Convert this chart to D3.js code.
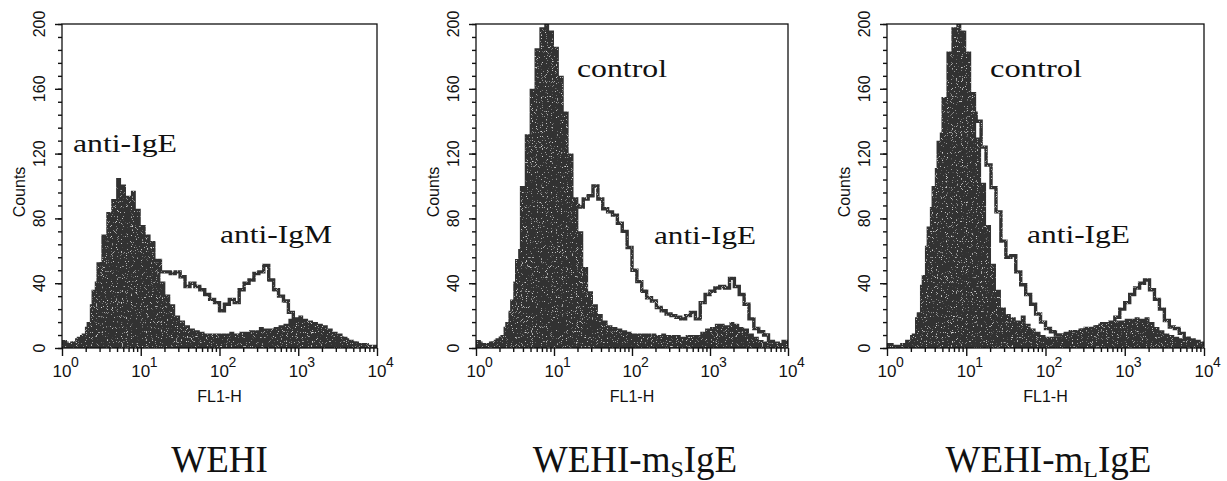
<!DOCTYPE html>
<html>
<head>
<meta charset="utf-8">
<script src="https://cdn.jsdelivr.net/npm/d3@7"></script>
<style>
  body { margin: 0; background: #fff; }
  svg { display: block; }
</style>
</head>
<body>
<svg id="chart" width="1227" height="481"></svg>
<script>
'use strict';

// histogram channels: 16 per decade over 10^0 .. 10^4 (64 bins)
var binsPerDecade = 16;
var decades = [1, 10, 100, 1000, 10000];
var decadeExp = ['0', '1', '2', '3', '4'];
var yTicks = [0, 40, 80, 120, 160, 200];

// WEHI
var wehiIgE = [5,3,4,7,9,16,36,53,70,84, 92,105,101,94,97,86,76,70,66,53,
  41,33,27,20,17,14,12,11,10,9, 9,9,9,9,10,9,10,10,11,11,
  13,12,12,13,14,15,18,19,20,18, 17,16,15,14,12,10,9,7,5,4, 3,2,1,1];
var wehiIgM = [3,2,3,5,7,12,26,40,52,62, 68,72,70,66,64,60,57,55,54,54,
  47,47,46,47,44,38,40,38,36,33, 30,28,23,27,30,28,36,40,42,46,
  47,51,42,36,32,29,22,17,15,13, 12,11,10,9,8,7,6,5,4,3, 2,2,1,1];

// WEHI-mSIgE
var msControl = [5,3,2,4,6,8,16,30,55,100, 132,160,185,198,200,196,186,168,146,120,
  93,72,50,35,27,21,17,14,13,12, 11,10,9,9,9,9,9,8,9,8,
  8,8,7,8,8,8,10,12,13,15, 15,14,16,15,13,12,9,7,5,4, 3,3,2,5];
var msIgE = [3,2,2,3,4,6,12,22,40,60, 75,85,92,95,96,95,94,92,90,89,
  88,87,92,94,100,92,86,84,82,77, 72,62,48,41,35,31,29,25,23,21,
  20,19,18,20,22,18,28,33,35,37, 38,37,43,38,33,27,18,12,10,8, 4,3,2,4];

// WEHI-mLIgE
var mlControl = [3,1,1,3,5,9,22,45,75,100, 128,155,183,198,200,196,183,158,130,102,
  76,52,36,25,21,19,17,20,15,12, 10,8,7,7,7,8,9,11,10,12,
  13,13,14,16,15,16,17,17,18,18, 19,18,19,16,13,11,9,8,7,6, 5,5,4,3];
var mlIgE = [2,1,1,2,4,7,18,38,62,86, 110,132,150,160,163,160,152,145,140,124,
  113,99,84,66,56,57,47,39,33,27, 21,16,12,10,8,8,9,10,10,11,
  12,12,13,14,15,16,19,24,28,33, 37,40,42,36,30,24,17,13,12,9, 6,5,4,3];

var titles = [['WEHI', '', ''], ['WEHI-m', 'S', 'IgE'], ['WEHI-m', 'L', 'IgE']];

var ink = '#313131';
var plotTop = 24, plotBottom = 348;

var panels = [
  { left: 62, width: 315, filled: wehiIgE, open: wehiIgM, title: titles[0],
    notes: [{ t: 'anti-IgE', x: 73, y: 152, w: 104 }, { t: 'anti-IgM', x: 220, y: 243, w: 112 }] },
  { left: 476, width: 312, filled: msControl, open: msIgE, title: titles[1],
    notes: [{ t: 'control', x: 577, y: 77, w: 90 }, { t: 'anti-IgE', x: 654, y: 244, w: 102 }] },
  { left: 887, width: 317, filled: mlControl, open: mlIgE, title: titles[2],
    notes: [{ t: 'control', x: 990, y: 77, w: 92 }, { t: 'anti-IgE', x: 1027, y: 243, w: 103 }] }
];

var svg = d3.select('#chart');

// scanned halftone look: sprinkle light specks over the dark marks
var grain = svg.append('defs').append('filter').attr('id', 'grain')
  .attr('x', 0).attr('y', 0).attr('width', 1).attr('height', 1);
grain.append('feTurbulence').attr('type', 'fractalNoise')
  .attr('baseFrequency', 1.2).attr('numOctaves', 1).attr('seed', 4).attr('result', 'noise');
grain.append('feColorMatrix').attr('in', 'noise').attr('type', 'matrix')
  .attr('values', '0 0 0 0 0.7  0 0 0 0 0.7  0 0 0 0 0.7  7 0 0 0 -4.4')
  .attr('result', 'specks');
grain.append('feComposite').attr('in', 'specks').attr('in2', 'SourceGraphic')
  .attr('operator', 'in').attr('result', 'sp');
var merge = grain.append('feMerge');
merge.append('feMergeNode').attr('in', 'SourceGraphic');
merge.append('feMergeNode').attr('in', 'sp');

// turn bin counts into step corner points [channel value, count]
function steps(vals) {
  var pts = [];
  vals.forEach(function(v, i) {
    pts.push([Math.pow(10, i / binsPerDecade), v]);
    pts.push([Math.pow(10, (i + 1) / binsPerDecade), v]);
  });
  return pts;
}

var minorX = [];
decades.slice(0, 4).forEach(function(d) {
  for (var k = 2; k <= 9; k++) minorX.push(d * k);
});

function drawPanel(p, i) {
  var x = d3.scaleLog().domain([1, 10000]).range([p.left, p.left + p.width]);
  var y = d3.scaleLinear().domain([0, 200]).range([plotBottom, plotTop]);
  var g = svg.append('g');

  g.append('clipPath').attr('id', 'clip' + i)
    .append('rect')
    .attr('x', p.left).attr('y', plotTop)
    .attr('width', p.width).attr('height', plotBottom - plotTop);

  var area = d3.area()
    .x(function(d) { return x(d[0]); })
    .y0(y(0))
    .y1(function(d) { return y(d[1]); });
  var line = d3.line()
    .x(function(d) { return x(d[0]); })
    .y(function(d) { return y(d[1]); });

  var marks = g.append('g')
    .attr('clip-path', 'url(#clip' + i + ')')
    .append('g')
    .attr('filter', 'url(#grain)');

  marks.append('path').datum(steps(p.filled))
    .attr('d', area)
    .attr('fill', ink);

  marks.append('path').datum(steps(p.open))
    .attr('d', line)
    .attr('fill', 'none')
    .attr('stroke', ink)
    .attr('stroke-width', 3.4);

  // frame
  g.append('rect')
    .attr('x', p.left).attr('y', plotTop)
    .attr('width', p.width).attr('height', plotBottom - plotTop)
    .attr('fill', 'none').attr('stroke', '#111').attr('stroke-width', 1.3);

  // y axis ticks
  var yMinor = g.append('g').attr('transform', 'translate(' + p.left + ',0)')
    .call(d3.axisLeft(y).tickValues(d3.range(0, 201, 8)).tickSize(4).tickFormat(''));
  var yMajor = g.append('g').attr('transform', 'translate(' + p.left + ',0)')
    .call(d3.axisLeft(y).tickValues(yTicks).tickSize(7).tickFormat(''));

  // x axis ticks
  var xMinor = g.append('g').attr('transform', 'translate(0,' + plotBottom + ')')
    .call(d3.axisBottom(x).tickValues(minorX).tickSize(4).tickFormat(''));
  var xMajor = g.append('g').attr('transform', 'translate(0,' + plotBottom + ')')
    .call(d3.axisBottom(x).tickValues(decades).tickSize(8).tickFormat(''));

  [yMinor, yMajor, xMinor, xMajor].forEach(function(a) {
    a.select('.domain').remove();
    a.selectAll('line').attr('stroke', '#111').attr('stroke-width', 1.4);
  });

  // y tick labels, rotated
  yTicks.forEach(function(v) {
    g.append('text')
      .attr('transform', 'translate(' + (p.left - 17) + ',' + y(v) + ') rotate(-90)')
      .attr('text-anchor', 'middle')
      .attr('font-family', 'Liberation Sans, Arial, sans-serif')
      .attr('font-size', 16)
      .attr('fill', '#111')
      .text(v);
  });

  g.append('text')
    .attr('transform', 'translate(' + (p.left - 37) + ',192) rotate(-90)')
    .attr('text-anchor', 'middle')
    .attr('font-family', 'Liberation Sans, Arial, sans-serif')
    .attr('font-size', 16)
    .attr('fill', '#111')
    .text('Counts');

  // x tick labels 10^n
  decades.forEach(function(v, k) {
    g.append('text')
      .attr('x', x(v)).attr('y', 377)
      .attr('text-anchor', 'middle')
      .attr('font-family', 'Liberation Sans, Arial, sans-serif')
      .attr('font-size', 17)
      .attr('fill', '#111')
      .text('10');
    g.append('text')
      .attr('x', x(v) + 9).attr('y', 367)
      .attr('font-family', 'Liberation Sans, Arial, sans-serif')
      .attr('font-size', 14)
      .attr('fill', '#111')
      .text(decadeExp[k]);
  });

  g.append('text')
    .attr('x', p.left + p.width / 2).attr('y', 402)
    .attr('text-anchor', 'middle')
    .attr('font-family', 'Liberation Sans, Arial, sans-serif')
    .attr('font-size', 16)
    .attr('fill', '#111')
    .text('FL1-H');

  // annotations inside the plot
  p.notes.forEach(function(n) {
    g.append('text')
      .attr('x', n.x).attr('y', n.y)
      .attr('font-family', 'Liberation Serif, Times New Roman, serif')
      .attr('font-size', 26)
      .attr('textLength', n.w)
      .attr('lengthAdjust', 'spacingAndGlyphs')
      .attr('fill', '#111')
      .text(n.t);
  });

  // panel title with optional subscript
  var t = g.append('text')
    .attr('x', p.left + p.width / 2 + (p.title[1] ? 3 : 0)).attr('y', 472)
    .attr('text-anchor', 'middle')
    .attr('font-family', 'Liberation Serif, Times New Roman, serif')
    .attr('font-size', 37)
    .attr('fill', '#111');
  t.append('tspan').text(p.title[0]);
  if (p.title[1]) {
    t.append('tspan').attr('font-size', 24).attr('dy', 5).text(p.title[1]);
    t.append('tspan').attr('dy', -5).text(p.title[2]);
  }
}

panels.forEach(drawPanel);
</script>
</body>
</html>
